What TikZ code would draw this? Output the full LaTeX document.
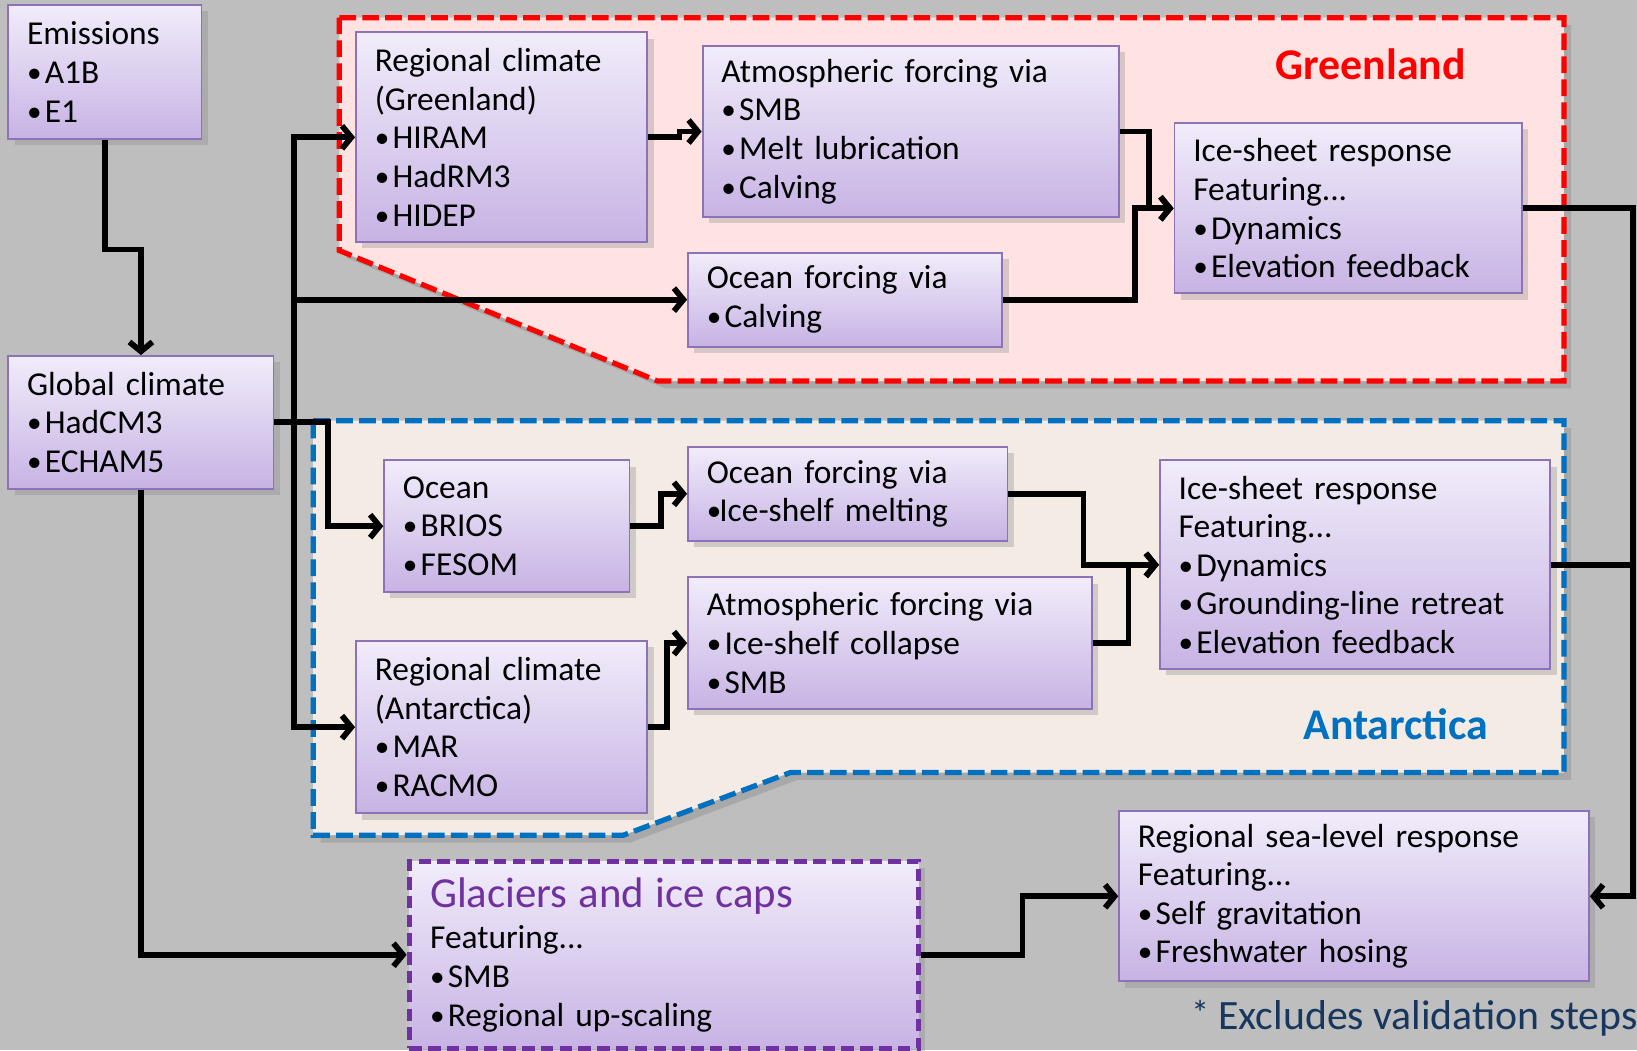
\documentclass[tikz,border=0pt]{standalone}
\usepackage{fontspec}
\setmainfont{Carlito}
\usetikzlibrary{arrows.meta,shadows,calc}
\definecolor{bg}{HTML}{BEBEBE}
\definecolor{boxtop}{HTML}{F1ECFA}
\definecolor{boxbot}{HTML}{C7B3E4}
\definecolor{boxline}{HTML}{8E72B8}
\definecolor{gfill}{HTML}{FFE3E3}
\definecolor{gred}{HTML}{FF0000}
\definecolor{afill}{HTML}{F4EBE5}
\definecolor{ablue}{HTML}{0070C0}
\definecolor{glp}{HTML}{7030A0}
\definecolor{navy}{HTML}{17375E}
\newcommand\bu{\makebox[17pt][l]{\raisebox{1pt}{\fontsize{28}{28}\selectfont •}}}
\newcommand\bun{\makebox[12pt][l]{\raisebox{1pt}{\fontsize{28}{28}\selectfont •}}}
\begin{document}
\begin{tikzpicture}[x=1pt,y=-1pt,
  box/.style={draw=boxline, line width=1.8pt, top color=boxtop, bottom color=boxbot,
    inner xsep=18pt, inner ysep=0pt, align=left, font=\fontsize{32}{37}\selectfont,
    drop shadow={opacity=0.3, shadow xshift=6pt, shadow yshift=-6pt}},
  ln/.style={line width=5.5pt, line join=miter},
  arr/.style={ln, -{Straight Barb[length=9pt,width=22pt]}},
  region/.style={line width=5pt, dash pattern=on 16pt off 6pt,
    drop shadow={opacity=0.35, shadow xshift=7pt, shadow yshift=-7pt}},
  lab/.style={font=\bfseries\fontsize{42}{42}\selectfont}
]
\useasboundingbox (0,0) rectangle (1568,1006);
\fill[bg] (0,0) rectangle (1568,1006);

% regions
\draw[region, draw=gred, fill=gfill] (325,17) -- (1498,17) -- (1498,365) -- (630,365) -- (325,240) -- cycle;
\draw[region, draw=ablue, fill=afill] (300,403) -- (1498,403) -- (1498,740) -- (757,740) -- (597,800) -- (300,800) -- cycle;

\node[lab, text=gred] (glab) at (1313,62) {Greenland};
\node[lab, text=ablue] (alab) at (1337,694) {Antarctica};

% boxes
\node[box, minimum width=185pt, minimum height=128pt, text width=149pt] (em) at (100.5,69)
  {Emissions\\\bu A1B\\\bu E1};
\node[box, minimum width=254pt, minimum height=127pt, text width=218pt] (gc) at (135,404.5)
  {Global climate\\\bu HadCM3\\\bu ECHAM5};
\node[box, minimum width=279pt, minimum height=201pt, text width=243pt] (rcg) at (480.5,131.5)
  {Regional climate\\(Greenland)\\\bu HIRAM\\\bu HadRM3\\\bu HIDEP};
\node[box, minimum width=399pt, minimum height=164pt, text width=363pt] (afg) at (872.5,126)
  {Atmospheric forcing via\\\bu SMB\\\bu Melt lubrication\\\bu Calving};
\node[box, minimum width=301pt, minimum height=90pt, text width=265pt] (ofg) at (809.5,287)
  {Ocean forcing via\\\bu Calving};
\node[box, minimum width=333pt, minimum height=163pt, text width=297pt] (isg) at (1291.5,199.5)
  {Ice-sheet response\\Featuring...\\\bu Dynamics\\\bu Elevation feedback};
\node[box, minimum width=235pt, minimum height=126pt, text width=199pt] (oc) at (485.5,504)
  {Ocean\\\bu BRIOS\\\bu FESOM};
\node[box, minimum width=306pt, minimum height=90pt, text width=270pt] (ofa) at (812,473)
  {Ocean forcing via\\\bun Ice-shelf melting};
\node[box, minimum width=387pt, minimum height=126pt, text width=351pt] (afa) at (852.5,616)
  {Atmospheric forcing via\\\bu Ice-shelf collapse\\\bu SMB};
\node[box, minimum width=279pt, minimum height=165pt, text width=243pt] (rca) at (480.5,696.5)
  {Regional climate\\(Antarctica)\\\bu MAR\\\bu RACMO};
\node[box, minimum width=374pt, minimum height=200pt, text width=338pt] (isa) at (1298,541)
  {Ice-sheet response\\Featuring...\\\bu Dynamics\\\bu Grounding-line retreat\\\bu Elevation feedback};
\node[box, draw=glp, line width=5pt, dash pattern=on 12pt off 6pt, inner xsep=20pt,
  minimum width=488pt, minimum height=179pt, text width=448pt] (gl) at (636,914.5)
  {{\fontsize{41}{37}\selectfont\color{glp}Glaciers and ice caps}\\[3pt]Featuring...\\\bu SMB\\\bu Regional up-scaling};
\node[box, minimum width=450pt, minimum height=163pt, text width=414pt] (rsl) at (1297,858.5)
  {Regional sea-level response\\Featuring...\\\bu Self gravitation\\\bu Freshwater hosing};

\node[font=\fontsize{40}{40}\selectfont, text=navy, anchor=east] (note) at (1572,975)
  {\raisebox{3pt}{\fontsize{34}{34}\selectfont *} Excludes validation steps};

% connectors
\draw[arr] (em.south) -- ++(0,105) -| (gc.north);
\draw[arr] (gc.east) -- ++(51,0) |- (oc.west);
\coordinate (tr) at ($(gc.east)+(19,0)$);
\draw[arr] (tr) |- (rcg.west);
\draw[arr] (tr) |- (ofg.west);
\draw[arr] (tr) |- (rca.west);
\draw[arr] (gc.south) |- (gl.west);
\draw[arr] (rcg.east) -- ++(30,0) |- (afg.west);
\draw[arr] (afg.east) -- ++(28,0) |- (isg.west);
\draw[arr] (ofg.east) -- ++(126,0) |- (isg.west);
\draw[arr] (isg.east) -- ++(105,0) |- (rsl.east);
\draw[arr] (oc.east) -- ++(29,0) |- (ofa.west);
\draw[arr] (rca.east) -- ++(18,0) |- (afa.west);
\draw[arr] (ofa.east) -- ++(72,0) |- (isa.west);
\draw[arr] (afa.east) -- ++(34,0) |- (isa.west);
\draw[ln] (isa.east) -- ++(78,0);
\draw[arr] (gl.east) -- ++(97,0) |- (rsl.west);
\end{tikzpicture}
\end{document}
